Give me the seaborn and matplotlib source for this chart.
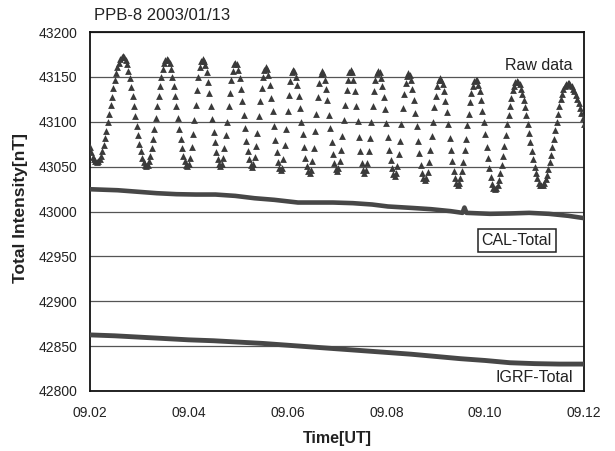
import numpy as np
import pandas as pd
import matplotlib
matplotlib.use("Agg")
import matplotlib.pyplot as plt
import seaborn as sns

# ---------------- data ----------------
title_text = "PPB-8 2003/01/13"

# Raw total-intensity samples (nT), one sample per second starting 09.02
raw_t0 = 9.02
raw_step_h = 1.0 / 3600.0
raw_values = [
    43072, 43066, 43061, 43058, 43056, 43055,
    43056, 43058, 43062, 43067, 43074, 43082, 43090, 43100, 43109, 43119, 43128, 43138, 43146, 43154, 43161, 43166, 43170, 43172, 43173,
    43172, 43169, 43164, 43157, 43149, 43139, 43129, 43118, 43106, 43095, 43085, 43075, 43067, 43060, 43055, 43052, 43051,
    43052, 43056, 43062, 43071, 43081, 43092, 43104, 43117, 43129, 43140, 43150, 43159, 43165, 43169, 43170,
    43169, 43165, 43159, 43150, 43140, 43129, 43117, 43104, 43092, 43081, 43071, 43062, 43056, 43052, 43051,
    43053, 43060, 43072, 43086, 43102, 43119, 43135, 43150, 43161, 43168, 43170,
    43168, 43163, 43155, 43144, 43132, 43118, 43103, 43089, 43077, 43066, 43058, 43053, 43051,
    43053, 43060, 43071, 43085, 43100, 43117, 43132, 43146, 43157, 43164, 43166,
    43164, 43158, 43149, 43137, 43123, 43108, 43093, 43079, 43067, 43058, 43052, 43050,
    43053, 43061, 43073, 43088, 43106, 43123, 43138, 43150, 43158, 43161,
    43159, 43152, 43141, 43127, 43112, 43095, 43080, 43066, 43055, 43048, 43046,
    43049, 43059, 43074, 43092, 43112, 43130, 43145, 43155, 43158,
    43156, 43150, 43141, 43129, 43115, 43100, 43086, 43072, 43060, 43051, 43045, 43043,
    43046, 43056, 43071, 43090, 43109, 43128, 43143, 43153, 43156,
    43154, 43147, 43137, 43124, 43108, 43093, 43077, 43064, 43054, 43047, 43045,
    43048, 43056, 43068, 43084, 43102, 43119, 43135, 43147, 43155, 43158,
    43155, 43147, 43134, 43118, 43101, 43083, 43067, 43054, 43046, 43043,
    43046, 43054, 43067, 43082, 43100, 43118, 43134, 43146, 43154, 43157,
    43155, 43149, 43140, 43128, 43114, 43099, 43083, 43069, 43057, 43048, 43042, 43040,
    43043, 43051, 43064, 43079, 43097, 43115, 43131, 43143, 43151, 43154,
    43152, 43146, 43137, 43124, 43110, 43095, 43079, 43065, 43052, 43043, 43037, 43035,
    43037, 43044, 43055, 43068, 43084, 43100, 43116, 43129, 43140, 43147, 43149,
    43147, 43142, 43134, 43123, 43111, 43097, 43082, 43068, 43056, 43045, 43037, 43032, 43030,
    43032, 43037, 43045, 43055, 43068, 43081, 43096, 43109, 43122, 43132, 43140, 43145, 43147,
    43146, 43141, 43134, 43124, 43112, 43100, 43086, 43072, 43060, 43048, 43038, 43031, 43026, 43025,
    43026, 43030, 43035, 43043, 43052, 43062, 43073, 43085, 43097, 43108, 43118, 43127, 43135, 43140, 43144, 43145,
    43144, 43142, 43137, 43131, 43124, 43116, 43107, 43097, 43087, 43077, 43067, 43058, 43050, 43043, 43037, 43032, 43030, 43029,
    43030, 43032, 43036, 43041, 43047, 43055, 43063, 43072, 43081, 43091, 43100, 43109, 43117, 43125, 43131, 43136, 43140, 43142, 43143,
    43143, 43141, 43140, 43137, 43134, 43130, 43125, 43121, 43115, 43110, 43104, 43098,
]

cal_time = [9.0200, 9.0256, 9.0335, 9.0375, 9.0414, 9.0454, 9.0494, 9.0533, 9.0573,
            9.0621, 9.0652, 9.0692, 9.0732, 9.0771, 9.0803, 9.0851, 9.0890, 9.0930,
            9.0954, 9.0958, 9.0962, 9.1010, 9.1049, 9.1089, 9.1129, 9.1168, 9.1200]
cal_values = [43024.8, 43023.7, 43020.4, 43019.3, 43018.9, 43018.9, 43017.4, 43014.8, 43013.0,
              43010.0, 43010.0, 43010.0, 43009.3, 43007.8, 43005.6, 43004.0, 43002.6, 43000.4,
              42998.5, 43004.4, 42998.5, 42997.4, 42997.8, 42998.5, 42997.4, 42995.2, 42992.6]

igrf_time = [9.020, 9.025, 9.030, 9.035, 9.040, 9.045, 9.050, 9.055, 9.060, 9.065, 9.070,
             9.075, 9.080, 9.085, 9.090, 9.095, 9.100, 9.105, 9.110, 9.115, 9.120]
igrf_values = [42862.5, 42861.5, 42860.0, 42858.5, 42857.0, 42856.0, 42854.5, 42853.0, 42851.0,
               42849.0, 42847.0, 42845.0, 42843.0, 42841.0, 42838.5, 42836.0, 42834.0, 42831.5,
               42830.5, 42830.0, 42830.0]

x_ticks = [9.02, 9.04, 9.06, 9.08, 9.10, 9.12]
x_ticklabels = ["09.02", "09.04", "09.06", "09.08", "09.10", "09.12"]
y_ticks = [42800, 42850, 42900, 42950, 43000, 43050, 43100, 43150, 43200]

series_labels = ["Raw data", "CAL-Total", "IGRF-Total"]

# ---------------- plot ----------------
sns.set_style("white")
plt.rcParams["font.family"] = ["Liberation Sans", "DejaVu Sans"]

W, H = 615, 451
fig = plt.figure(figsize=(W / 100, H / 100), dpi=100)
L, R, T, B = 90, 584, 32, 391
ax = fig.add_axes([L / W, 1 - B / H, (R - L) / W, (B - T) / H])

text_c = "#222222"
mark_c = "#3a3a3a"

raw_df = pd.DataFrame({
    "time": raw_t0 + np.arange(len(raw_values)) * raw_step_h,
    "value": raw_values,
})
sns.scatterplot(data=raw_df, x="time", y="value", marker="^", s=24,
                color=mark_c, linewidth=0, ax=ax, zorder=3)
sns.lineplot(x=cal_time, y=cal_values, color="#474747", linewidth=3.3,
             ax=ax, zorder=3)
sns.lineplot(x=igrf_time, y=igrf_values, color="#474747", linewidth=3.5,
             ax=ax, zorder=3)

ax.set_xlim(9.02, 9.12)
ax.set_ylim(42800, 43200)
ax.set_xticks(x_ticks)
ax.set_xticklabels(x_ticklabels)
ax.set_yticks(y_ticks)
ax.set_yticklabels([str(v) for v in y_ticks])
ax.tick_params(axis="both", direction="in", length=3, width=1,
               labelsize=10, colors=text_c)
ax.tick_params(axis="x", pad=11)
ax.tick_params(axis="y", pad=9, length=0)

ax.yaxis.grid(True, color="#555555", linewidth=0.9)
ax.xaxis.grid(False)
ax.set_axisbelow(True)
for sp in ax.spines.values():
    sp.set_color("#111111")
    sp.set_linewidth(1.3)

ax.set_xlabel("")
ax.set_ylabel("")
fig.text(337 / W, 1 - 439 / H, "Time[UT]", ha="center", va="center",
         fontsize=11.5, fontweight="bold", color=text_c)
fig.text(20 / W, 1 - 208 / H, "Total Intensity[nT]", ha="center", va="center",
         rotation=90, fontsize=12.5, fontweight="bold", color=text_c)
fig.text(94 / W, 1 - 16 / H, title_text, ha="left", va="center",
         fontsize=12, color=text_c)

ax.text(9.1176, 43163, series_labels[0], ha="right", va="center",
        fontsize=11.5, color=text_c)
ax.text(9.1064, 42968, series_labels[1], ha="center", va="center",
        fontsize=11.5, color=text_c,
        bbox=dict(boxstyle="square,pad=0.25", fc="white", ec="#222222", lw=1.1))
ax.text(9.1178, 42814.5, series_labels[2], ha="right", va="center",
        fontsize=11.5, color=text_c)

fig.savefig("out.png", dpi=100, facecolor="white")
